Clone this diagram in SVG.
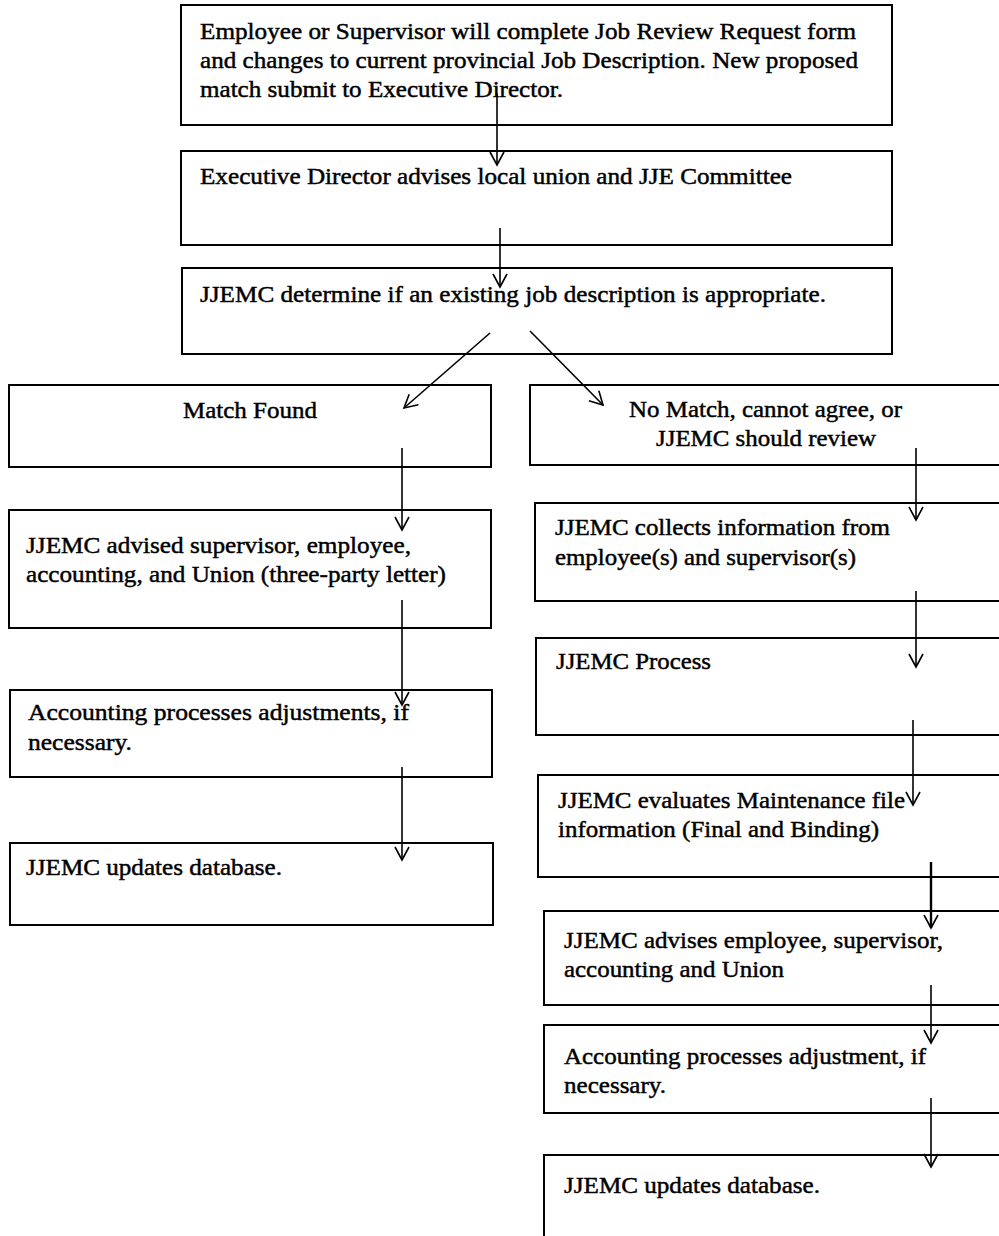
<svg xmlns="http://www.w3.org/2000/svg" width="999" height="1236" viewBox="0 0 999 1236">
<style>
.box{fill:#fff;stroke:#000;stroke-width:2}
.t{font-family:"Liberation Serif","Times New Roman",serif;font-size:23px;fill:#000;stroke:#000;stroke-width:0.45}
.c{stroke:#000;stroke-width:1.6;fill:none;marker-end:url(#ah)}
</style>
<defs>
<marker id="ah" markerUnits="userSpaceOnUse" viewBox="-14 -9 16 18" markerWidth="16" markerHeight="18" refX="0" refY="0" orient="auto">
<path d="M-13,-7 L0,0 L-13,7" fill="none" stroke="#000" stroke-width="1.6"/>
</marker>
</defs>
<rect width="999" height="1236" fill="#fff"/>
<g id="n1"><rect class="box" x="181" y="5" width="711" height="120"/>
<text class="t" x="200" y="39" textLength="656" lengthAdjust="spacingAndGlyphs">Employee or Supervisor will complete Job Review Request form</text>
<text class="t" x="200" y="68" textLength="658" lengthAdjust="spacingAndGlyphs">and changes to current provincial Job Description. New proposed</text>
<text class="t" x="200" y="97" textLength="363" lengthAdjust="spacingAndGlyphs">match submit to Executive Director.</text></g>
<g id="n2"><rect class="box" x="181" y="151" width="711" height="94"/>
<text class="t" x="200" y="184" textLength="592" lengthAdjust="spacingAndGlyphs">Executive Director advises local union and JJE Committee</text></g>
<g id="n3"><rect class="box" x="182" y="268" width="710" height="86"/>
<text class="t" x="200" y="302" textLength="626" lengthAdjust="spacingAndGlyphs">JJEMC determine if an existing job description is appropriate.</text></g>
<g id="l1"><rect class="box" x="9" y="385" width="482" height="82"/>
<text class="t" x="183" y="418" textLength="134" lengthAdjust="spacingAndGlyphs">Match Found</text></g>
<g id="l2"><rect class="box" x="9" y="510" width="482" height="118"/>
<text class="t" x="26" y="553" textLength="385" lengthAdjust="spacingAndGlyphs">JJEMC advised supervisor, employee,</text>
<text class="t" x="26" y="582" textLength="420" lengthAdjust="spacingAndGlyphs">accounting, and Union (three-party letter)</text></g>
<g id="l3"><rect class="box" x="10" y="690" width="482" height="87"/>
<text class="t" x="28" y="720" textLength="381" lengthAdjust="spacingAndGlyphs">Accounting processes adjustments, if</text>
<text class="t" x="28" y="750" textLength="104" lengthAdjust="spacingAndGlyphs">necessary.</text></g>
<g id="l4"><rect class="box" x="10" y="843" width="483" height="82"/>
<text class="t" x="26" y="875" textLength="256" lengthAdjust="spacingAndGlyphs">JJEMC updates database.</text></g>
<g id="r1"><rect class="box" x="530" y="385" width="480" height="80"/>
<text class="t" x="629" y="417" textLength="273" lengthAdjust="spacingAndGlyphs">No Match, cannot agree, or</text>
<text class="t" x="656" y="446" textLength="220" lengthAdjust="spacingAndGlyphs">JJEMC should review</text></g>
<g id="r2"><rect class="box" x="535" y="503" width="475" height="98"/>
<text class="t" x="555" y="535" textLength="335" lengthAdjust="spacingAndGlyphs">JJEMC collects information from</text>
<text class="t" x="555" y="565" textLength="301" lengthAdjust="spacingAndGlyphs">employee(s) and supervisor(s)</text></g>
<g id="r3"><rect class="box" x="536" y="638" width="474" height="97"/>
<text class="t" x="556" y="669" textLength="155" lengthAdjust="spacingAndGlyphs">JJEMC Process</text></g>
<g id="r4"><rect class="box" x="538" y="775" width="472" height="102"/>
<text class="t" x="558" y="808" textLength="347" lengthAdjust="spacingAndGlyphs">JJEMC evaluates Maintenance file</text>
<text class="t" x="558" y="837" textLength="321" lengthAdjust="spacingAndGlyphs">information (Final and Binding)</text></g>
<g id="r5"><rect class="box" x="544" y="911" width="466" height="94"/>
<text class="t" x="564" y="948" textLength="379" lengthAdjust="spacingAndGlyphs">JJEMC advises employee, supervisor,</text>
<text class="t" x="564" y="977" textLength="220" lengthAdjust="spacingAndGlyphs">accounting and Union</text></g>
<g id="r6"><rect class="box" x="544" y="1025" width="466" height="88"/>
<text class="t" x="564" y="1064" textLength="362" lengthAdjust="spacingAndGlyphs">Accounting processes adjustment, if</text>
<text class="t" x="564" y="1093" textLength="102" lengthAdjust="spacingAndGlyphs">necessary.</text></g>
<g id="r7"><rect class="box" x="544" y="1155" width="466" height="100"/>
<text class="t" x="564" y="1193" textLength="256" lengthAdjust="spacingAndGlyphs">JJEMC updates database.</text></g>
<g id="connectors">
<line class="c" x1="497" y1="93" x2="497" y2="165"/>
<line class="c" x1="500" y1="228" x2="500" y2="287"/>
<line class="c" x1="490" y1="333" x2="404" y2="408"/>
<line class="c" x1="530" y1="331" x2="603" y2="405"/>
<line class="c" x1="402" y1="448" x2="402" y2="530"/>
<line class="c" x1="402" y1="600" x2="402" y2="705"/>
<line class="c" x1="402" y1="767" x2="402" y2="860"/>
<line class="c" x1="916" y1="448" x2="916" y2="520"/>
<line class="c" x1="916" y1="591" x2="916" y2="667"/>
<line class="c" x1="913" y1="720" x2="913" y2="805"/>
<line class="c" x1="931" y1="862" x2="931" y2="928" style="stroke-width:2.4"/>
<line class="c" x1="931" y1="985" x2="931" y2="1043"/>
<line class="c" x1="931" y1="1098" x2="931" y2="1167"/>
</g>
</svg>
